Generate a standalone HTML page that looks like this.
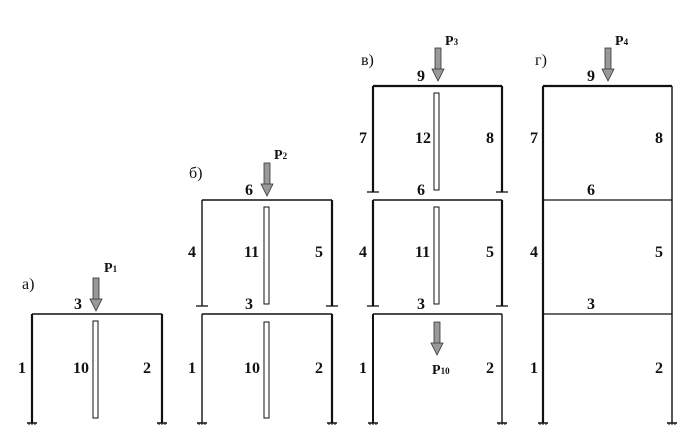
<!DOCTYPE html>
<html><head><meta charset="utf-8"><style>
html,body{margin:0;padding:0;background:#fff;}
svg{display:block;}
text{font-family:"Liberation Serif",serif;fill:#111;}
.n{font-weight:bold;font-size:16px;}
.l{font-size:16px;}
.p{font-size:14px;font-weight:bold;}
</style></head><body>
<svg width="693" height="445" viewBox="0 0 693 445" xmlns="http://www.w3.org/2000/svg">
<defs>
<g id="arr">
 <rect x="-3" y="0" width="6" height="22" fill="#999" stroke="#333" stroke-width="0.8"/>
 <polygon points="-6,21 6,21 0,33" fill="#999" stroke="#333" stroke-width="0.8"/>
</g>
<g id="foot">
 <line x1="-5" y1="0" x2="5" y2="0" stroke="#111" stroke-width="1.5"/>
 <line x1="-3" y1="0" x2="-3" y2="2" stroke="#111" stroke-width="1"/>
 <line x1="0" y1="0" x2="0" y2="2" stroke="#111" stroke-width="1"/>
 <line x1="3" y1="0" x2="3" y2="2" stroke="#111" stroke-width="1"/>
</g>
<g id="tick">
 <line x1="-6" y1="0" x2="6" y2="0" stroke="#111" stroke-width="1.3"/>
</g>
</defs>
<g stroke="#111" fill="none">
<line x1="32" y1="314" x2="162" y2="314" stroke-width="1.5"/>
<line x1="32" y1="314" x2="32" y2="423" stroke-width="2.2"/>
<line x1="162" y1="314" x2="162" y2="423" stroke-width="2.2"/>
<rect x="93" y="321" width="5" height="97" stroke-width="1"/>
<line x1="202" y1="314" x2="332" y2="314" stroke-width="1.5"/>
<line x1="202" y1="314" x2="202" y2="423" stroke-width="1.4"/>
<line x1="332" y1="314" x2="332" y2="423" stroke-width="2.2"/>
<rect x="264" y="322" width="5" height="96" stroke-width="1"/>
<line x1="202" y1="200" x2="332" y2="200" stroke-width="1.5"/>
<line x1="202" y1="200" x2="202" y2="306" stroke-width="1.4"/>
<line x1="332" y1="200" x2="332" y2="306" stroke-width="2.2"/>
<rect x="264" y="207" width="5" height="97" stroke-width="1"/>
<line x1="373" y1="314" x2="502" y2="314" stroke-width="1.5"/>
<line x1="373" y1="314" x2="373" y2="423" stroke-width="2"/>
<line x1="502" y1="314" x2="502" y2="423" stroke-width="1.4"/>
<line x1="373" y1="200" x2="502" y2="200" stroke-width="1.5"/>
<line x1="373" y1="200" x2="373" y2="306" stroke-width="2.2"/>
<line x1="502" y1="200" x2="502" y2="306" stroke-width="2.2"/>
<rect x="434" y="207" width="5" height="97" stroke-width="1"/>
<line x1="373" y1="86" x2="502" y2="86" stroke-width="2.2"/>
<line x1="373" y1="86" x2="373" y2="192" stroke-width="2.2"/>
<line x1="502" y1="86" x2="502" y2="192" stroke-width="2.2"/>
<rect x="434" y="93" width="5" height="97" stroke-width="1"/>
<line x1="543" y1="86" x2="672" y2="86" stroke-width="2.2"/>
<line x1="543" y1="200" x2="672" y2="200" stroke-width="1.2"/>
<line x1="543" y1="314" x2="672" y2="314" stroke-width="1.2"/>
<line x1="543" y1="86" x2="543" y2="423" stroke-width="2.2"/>
<line x1="672" y1="86" x2="672" y2="423" stroke-width="1.4"/>
</g>
<use href="#foot" x="32" y="423"/><use href="#foot" x="162" y="423"/>
<use href="#foot" x="202" y="423"/><use href="#foot" x="332" y="423"/>
<use href="#foot" x="373" y="423"/><use href="#foot" x="502" y="423"/>
<use href="#foot" x="543" y="423"/><use href="#foot" x="672" y="423"/>
<use href="#tick" x="202" y="306"/><use href="#tick" x="332" y="306"/>
<use href="#tick" x="373" y="306"/><use href="#tick" x="502" y="306"/>
<use href="#tick" x="373" y="192"/><use href="#tick" x="502" y="192"/>
<use href="#arr" x="96" y="278"/>
<use href="#arr" x="267" y="163"/>
<use href="#arr" x="438" y="48"/>
<use href="#arr" x="608" y="48"/>
<use href="#arr" x="437" y="322"/>
<text class="l" x="22" y="289">а)</text>
<text class="l" x="189" y="178">б)</text>
<text class="l" x="361" y="65">в)</text>
<text class="l" x="535" y="65">г)</text>
<text class="p" x="104" y="272">P<tspan font-size="9">1</tspan></text>
<text class="p" x="274" y="159">P<tspan font-size="9">2</tspan></text>
<text class="p" x="445" y="45">P<tspan font-size="9">3</tspan></text>
<text class="p" x="615" y="45">P<tspan font-size="9">4</tspan></text>
<text class="p" x="432" y="374">P<tspan font-size="9">10</tspan></text>
<text class="n" x="74" y="309">3</text>
<text class="n" x="18" y="373">1</text>
<text class="n" x="73" y="373">10</text>
<text class="n" x="143" y="373">2</text>
<text class="n" x="245" y="195">6</text>
<text class="n" x="188" y="257">4</text>
<text class="n" x="244" y="257">11</text>
<text class="n" x="315" y="257">5</text>
<text class="n" x="245" y="309">3</text>
<text class="n" x="188" y="373">1</text>
<text class="n" x="244" y="373">10</text>
<text class="n" x="315" y="373">2</text>
<text class="n" x="417" y="81">9</text>
<text class="n" x="359" y="143">7</text>
<text class="n" x="415" y="143">12</text>
<text class="n" x="486" y="143">8</text>
<text class="n" x="417" y="195">6</text>
<text class="n" x="359" y="257">4</text>
<text class="n" x="415" y="257">11</text>
<text class="n" x="486" y="257">5</text>
<text class="n" x="417" y="309">3</text>
<text class="n" x="359" y="373">1</text>
<text class="n" x="486" y="373">2</text>
<text class="n" x="587" y="81">9</text>
<text class="n" x="530" y="143">7</text>
<text class="n" x="655" y="143">8</text>
<text class="n" x="587" y="195">6</text>
<text class="n" x="530" y="257">4</text>
<text class="n" x="655" y="257">5</text>
<text class="n" x="587" y="309">3</text>
<text class="n" x="530" y="373">1</text>
<text class="n" x="655" y="373">2</text>
</svg>
</body></html>
